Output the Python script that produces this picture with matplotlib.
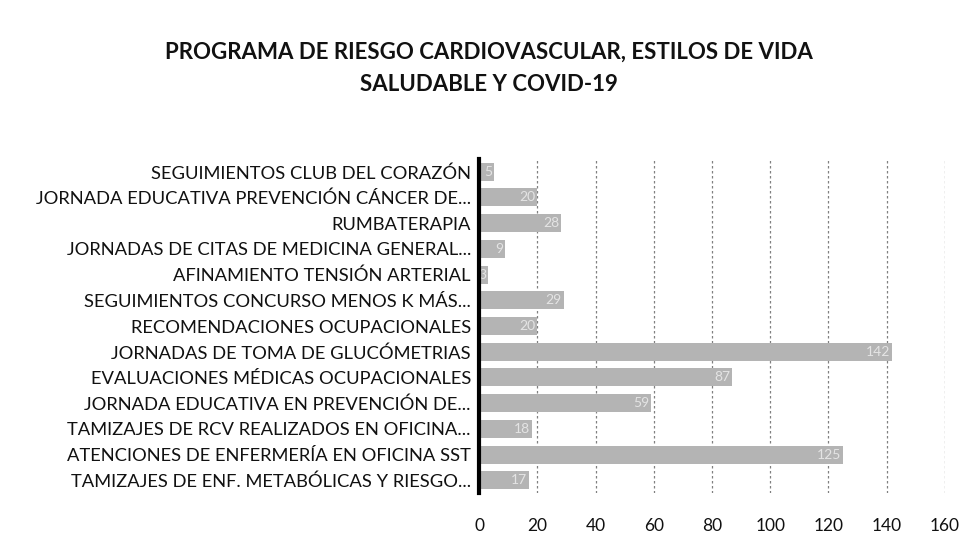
import matplotlib
matplotlib.use("Agg")
import matplotlib.pyplot as plt
import numpy as np

# Datos del gráfico (de arriba hacia abajo)
categorias = [
    "SEGUIMIENTOS CLUB DEL CORAZÓN",
    "JORNADA EDUCATIVA PREVENCIÓN CÁNCER DE...",
    "RUMBATERAPIA",
    "JORNADAS DE CITAS DE MEDICINA GENERAL...",
    "AFINAMIENTO TENSIÓN ARTERIAL",
    "SEGUIMIENTOS CONCURSO MENOS K MÁS...",
    "RECOMENDACIONES OCUPACIONALES",
    "JORNADAS DE TOMA DE GLUCÓMETRIAS",
    "EVALUACIONES MÉDICAS OCUPACIONALES",
    "JORNADA EDUCATIVA EN PREVENCIÓN DE...",
    "TAMIZAJES DE RCV REALIZADOS EN OFICINA...",
    "ATENCIONES DE ENFERMERÍA EN OFICINA SST",
    "TAMIZAJES DE ENF. METABÓLICAS Y RIESGO...",
]
valores = [5, 20, 28, 9, 3, 29, 20, 142, 87, 59, 18, 125, 17]
ticks_x = [0, 20, 40, 60, 80, 100, 120, 140, 160]

plt.rcParams['font.family'] = ['Lato', 'DejaVu Sans']

fig = plt.figure(figsize=(9.78, 5.48), dpi=100)
ax = fig.add_axes([0.49, 0.1, 0.476, 0.61])

y = np.arange(len(categorias))
barras = ax.barh(y, valores, height=0.7, color='#b4b4b4', zorder=2)

# Etiquetas de valor dentro del extremo de la barra
for rect, v in zip(barras, valores):
    ax.text(rect.get_width() - 0.6, rect.get_y() + rect.get_height() / 2, str(v),
            ha='right', va='center', fontsize=10, color='#e4e4e4', zorder=3)

ax.set_yticks(y)
ax.set_yticklabels(categorias, fontsize=13.2, color='#111111')
ax.invert_yaxis()
ax.set_ylim(len(categorias) - 0.5, -0.5)

ax.set_xlim(0, 160)
ax.set_xticks(ticks_x)
ax.set_xticklabels([str(t) for t in ticks_x], fontsize=12.5, color='#111111')
ax.tick_params(axis='y', length=0, pad=6)
ax.tick_params(axis='x', length=0, pad=18)

ax.grid(axis='x', color='#808080', linestyle=(0, (2, 2)), linewidth=0.9, zorder=1)
for s in ['top', 'right', 'bottom']:
    ax.spines[s].set_visible(False)
ax.spines['left'].set_linewidth(3)
ax.spines['left'].set_color('black')
ax.spines['left'].set_zorder(4)

fig.text(0.5, 0.905, "PROGRAMA DE RIESGO CARDIOVASCULAR, ESTILOS DE VIDA",
         ha='center', va='center', fontsize=16, fontweight='bold', color='#111111')
fig.text(0.5, 0.845, "SALUDABLE Y COVID-19",
         ha='center', va='center', fontsize=16, fontweight='bold', color='#111111')

fig.savefig("out.png", dpi=100)
